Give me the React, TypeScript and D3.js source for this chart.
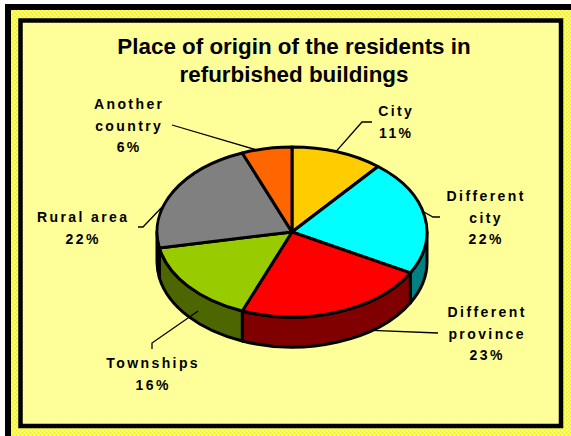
import React from "react";
import * as d3 from "d3";

const categories = ["City", "Different city", "Different province", "Townships", "Rural area", "Another country"];
const values = [11, 22, 23, 16, 22, 6];
const labelLines = [
  ["City", "11%"],
  ["Different", "city", "22%"],
  ["Different", "province", "23%"],
  ["Townships", "16%"],
  ["Rural area", "22%"],
  ["Another", "country", "6%"],
];
const topColors = ["#FFCC00", "#00FFFF", "#FF0000", "#99CC00", "#808080", "#FF6600"];
const sideColors = ["#806600", "#008080", "#800000", "#4D6600", "#404040", "#803300"];

const W = 571, H = 436;
const cx = 292, cy = 232, rx = 135, ry = 85, depth = 30;

// label layout: center x, first baseline y, leader elbow/end, leader start (fraction along slice, fraction of depth)
const labelLayout = [
  { x: 395, y: 116, lx: 372, ly: 122, ex: 362, ey: 122, t: 0.48, side: 0 },
  { x: 485, y: 201, lx: 440, ly: 217, ex: 433, ey: 217, t: 0.46, side: 0 },
  { x: 486, y: 317, lx: 438, ly: 333, ex: 438, ey: 333, t: 0.3, side: 1 },
  { x: 152, y: 368, lx: 152, ly: 349, ex: 152, ey: 343, t: 0.39, side: 0.6 },
  { x: 82, y: 222, lx: 138, ly: 227, ex: 143, ey: 227, t: 0.37, side: 0 },
  { x: 128, y: 109, lx: 172, ly: 125, ex: 172, ey: 125, t: 0.3, side: 0 },
];

const rad = (d: number) => (d * Math.PI) / 180;
const P = (deg: number, dz = 0): [number, number] => [
  cx + rx * Math.sin(rad(deg)),
  cy - ry * Math.cos(rad(deg)) + dz,
];

export default function App() {
  const pie = d3.pie<number>().sort(null).value((d) => d)(values);
  const slices = pie.map((p, i) => ({
    i,
    a0: (p.startAngle * 180) / Math.PI,
    a1: (p.endAngle * 180) / Math.PI,
  }));

  const topPath = (a0: number, a1: number) => {
    const [x0, y0] = P(a0);
    const [x1, y1] = P(a1);
    const large = a1 - a0 > 180 ? 1 : 0;
    return `M${cx},${cy}L${x0},${y0}A${rx},${ry} 0 ${large} 1 ${x1},${y1}Z`;
  };
  const sidePath = (a0: number, a1: number) => {
    const s = Math.max(a0, 90), e = Math.min(a1, 270);
    if (s >= e) return null;
    const [x0, y0] = P(s);
    const [x1, y1] = P(e);
    const [x2, y2] = P(e, depth);
    const [x3, y3] = P(s, depth);
    return `M${x0},${y0}A${rx},${ry} 0 0 1 ${x1},${y1}L${x2},${y2}A${rx},${ry} 0 0 0 ${x3},${y3}Z`;
  };

  const lineH = 21.5;

  return (
    <svg width={W} height={H} style={{ position: "absolute", left: 0, top: 0 }}>
      <defs>
        <pattern id="hatch" width="4" height="4" patternUnits="userSpaceOnUse">
          <rect width="4" height="4" fill="#FFFF22" />
          <rect x="0" y="0" width="1" height="1" fill="#FFFFAA" />
          <rect x="2" y="2" width="1" height="1" fill="#FFFFAA" />
          <rect x="2" y="0" width="1" height="1" fill="#EEEE00" />
          <rect x="0" y="2" width="1" height="1" fill="#EEEE00" />
        </pattern>
      </defs>
      <rect x={0} y={0} width={W} height={H} fill="#FFFFFF" />
      <rect x={5} y={4} width={W - 5} height={H - 4} fill="#000000" />
      <rect x={11} y={10} width={W - 11} height={H - 10} fill="url(#hatch)" />
      <rect x={20.5} y={20.5} width={540.5} height={405.5} fill="#FFFF99" stroke="#000" strokeWidth={4.5} />

      <text x={294} y={54} textAnchor="middle" fontFamily="Liberation Sans, Arial, sans-serif" fontWeight="bold" fontSize={22.4} fill="#000">
        Place of origin of the residents in
      </text>
      <text x={294} y={82} textAnchor="middle" fontFamily="Liberation Sans, Arial, sans-serif" fontWeight="bold" fontSize={22.4} fill="#000">
        refurbished buildings
      </text>

      <g stroke="#000" strokeWidth={3} strokeLinejoin="round">
        {slices.map((s) => {
          const d = sidePath(s.a0, s.a1);
          return d ? <path key={"s" + s.i} d={d} fill={sideColors[s.i]} /> : null;
        })}
        {slices.map((s) => (
          <path key={"t" + s.i} d={topPath(s.a0, s.a1)} fill={topColors[s.i]} />
        ))}
      </g>

      <g stroke="#000" strokeWidth={1.3} fill="none">
        {slices.map((s) => {
          const L = labelLayout[s.i];
          const a = s.a0 + (s.a1 - s.a0) * L.t;
          const [sx, sy] = P(a, depth * L.side);
          return (
            <polyline key={"l" + s.i} points={`${sx},${sy} ${L.ex},${L.ey} ${L.lx},${L.ly}`} />
          );
        })}
      </g>

      <g fontFamily="Liberation Sans, Arial, sans-serif" fontWeight="bold" fontSize={14} fill="#000" textAnchor="middle">
        {labelLines.map((lines, i) => (
          <text key={"t" + i} x={labelLayout[i].x} y={labelLayout[i].y} letterSpacing={2.4}>
            {lines.map((ln, j) => (
              <tspan key={j} x={labelLayout[i].x + 1.2} dy={j === 0 ? 0 : lineH}>
                {ln}
              </tspan>
            ))}
          </text>
        ))}
      </g>
    </svg>
  );
}
